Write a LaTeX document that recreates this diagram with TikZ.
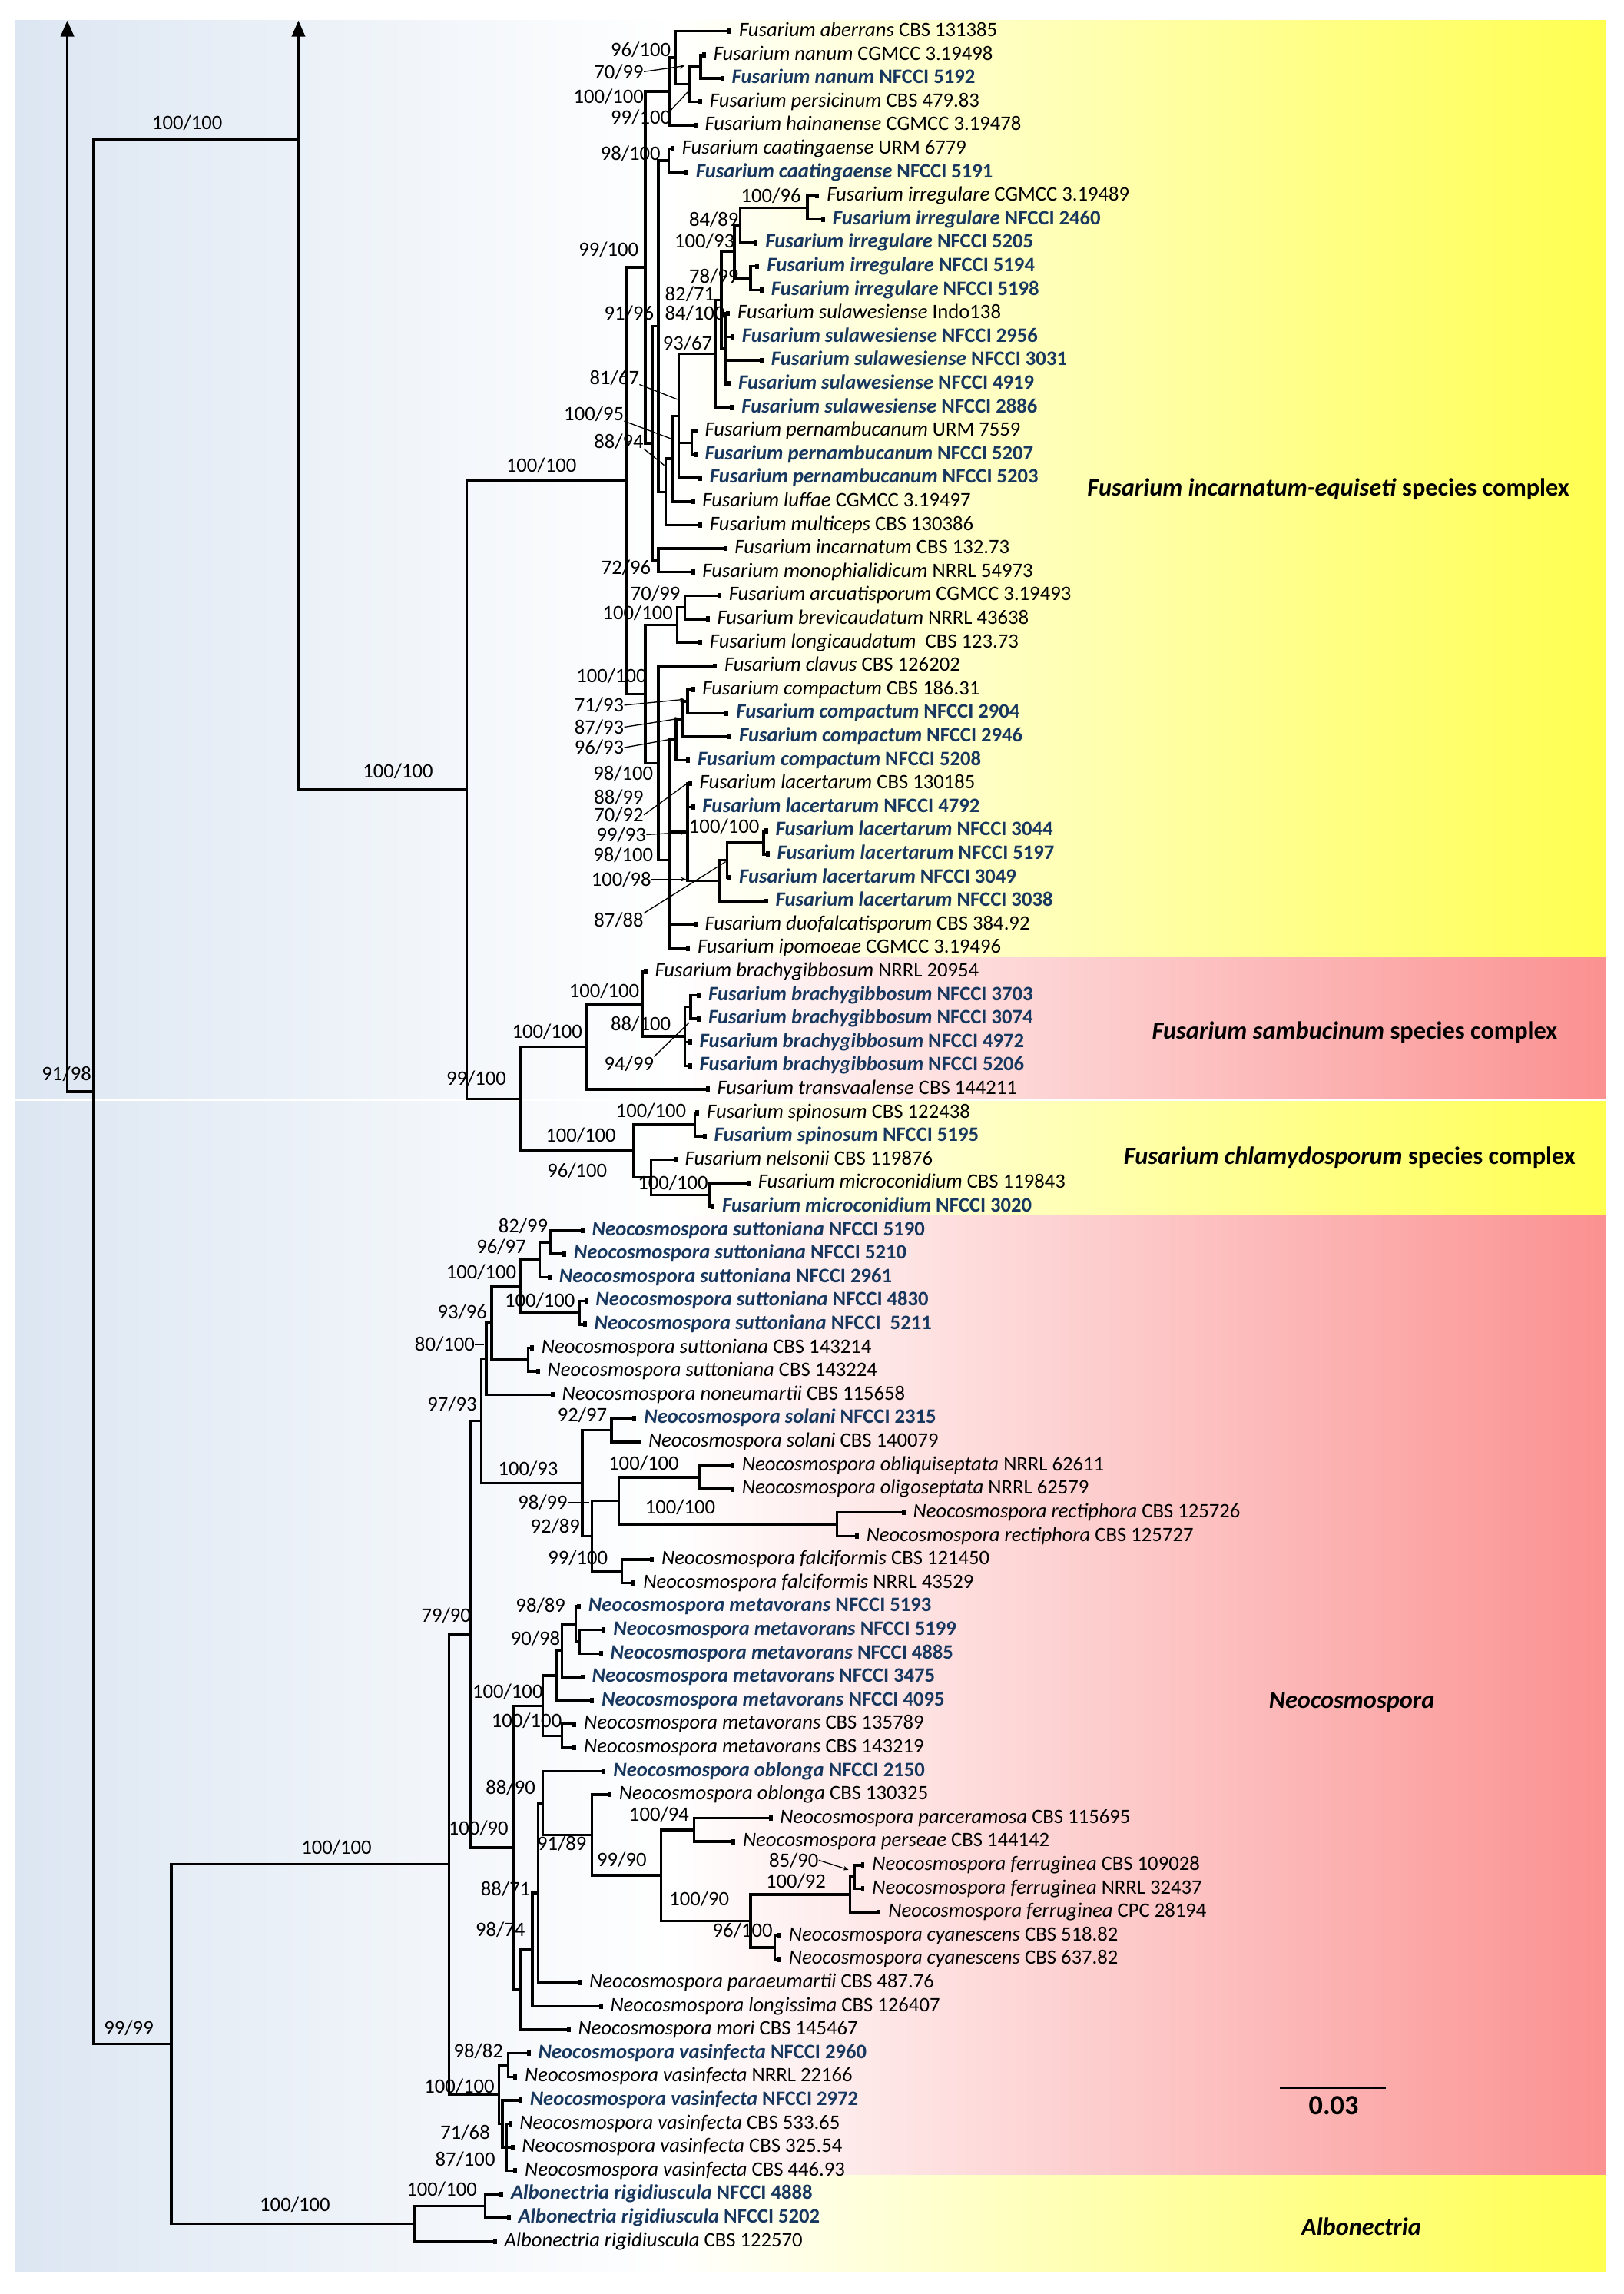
\documentclass[tikz,border=0pt]{standalone}
\usepackage{fontspec}
\setmainfont{Carlito}
\usetikzlibrary{arrows.meta}

\definecolor{nfblue}{RGB}{23,55,94}
\definecolor{bandyellow}{RGB}{255,255,80}
\definecolor{bandred}{RGB}{251,145,145}
\definecolor{leftblue}{RGB}{220,230,242}

% strain names: plain and newly isolated (NFCCI)
\newcommand{\tx}[2]{\textit{#1} #2}
\newcommand{\nf}[2]{\textcolor{nfblue}{\bfseries\textit{#1} #2}}

\begin{document}
\begin{tikzpicture}[x=1pt, y=-1pt,
  br/.style={line width=1.8pt, line cap=rect},
  tipbr/.style={line width=1.8pt, -{Square[length=2.6pt,width=3.6pt]}},
  outarrow/.style={line width=1.8pt, -{Triangle[length=11pt,width=9pt]}},
  leaf/.style={anchor=west, inner xsep=5pt, inner ysep=0pt, text height=10pt, text depth=3pt, font=\fontsize{14}{16}\selectfont},
  bs/.style={inner sep=0pt, text height=9.2pt, text depth=0pt, font=\fontsize{14}{16}\selectfont},
  lead/.style={line width=0.7pt},
  leadarr/.style={line width=0.7pt, -{Stealth[length=3.5pt,width=3pt]}},
  clade/.style={inner sep=0pt, text height=11.5pt, text depth=0pt, font=\fontsize{17}{20}\selectfont\bfseries}]

\useasboundingbox (0,0) rectangle (1110,1568);

% Background
\shade[left color=leftblue, right color=white] (10,14) rectangle (461,751.3);
\shade[left color=leftblue, right color=white] (10,752.8) rectangle (461,1552.6);
\shade[left color=white, right color=bandyellow] (460,14) rectangle (1098,654.6);
\shade[left color=white, right color=bandred] (460,654.6) rectangle (1098,751.3);
\shade[left color=white, right color=bandyellow] (460,752.8) rectangle (1098,830.5);
\shade[left color=white, right color=bandred] (460,830.5) rectangle (1098,1486.8);
\shade[left color=white, right color=bandyellow] (460,1486.8) rectangle (1098,1552.6);

% Clades
\node[clade] (fiesc) at (908,333) {\textit{Fusarium incarnatum-equiseti} species complex};
\node[clade] (fsamsc) at (926,704.5) {\textit{Fusarium sambucinum} species complex};
\node[clade] (fcsc) at (922.5,790) {\textit{Fusarium chlamydosporum} species complex};
\node[clade] (neo) at (924,1162) {\textit{Neocosmospora}};
\node[clade] (albo) at (930.5,1522) {\textit{Albonectria}};

% Leaves, FIESC
\node[leaf] (aberrans) at (500,21.4) {\tx{Fusarium aberrans}{CBS 131385}};
\node[leaf] (nanumA) at (482.5,37.47) {\tx{Fusarium nanum}{CGMCC 3.19498}};
\node[leaf] (nanumB) at (495,53.54) {\nf{Fusarium nanum}{NFCCI 5192}};
\node[leaf] (persicinum) at (480,69.61) {\tx{Fusarium persicinum}{CBS 479.83}};
\node[leaf] (hainanense) at (476.6,85.68) {\tx{Fusarium hainanense}{CGMCC 3.19478}};
\node[leaf] (caatA) at (461,101.75) {\tx{Fusarium caatingaense}{URM 6779}};
\node[leaf] (caatB) at (470.5,117.82) {\nf{Fusarium caatingaense}{NFCCI 5191}};
\node[leaf] (irrA) at (560,133.89) {\tx{Fusarium irregulare}{CGMCC 3.19489}};
\node[leaf] (irrB) at (564,149.96) {\nf{Fusarium irregulare}{NFCCI 2460}};
\node[leaf] (irrC) at (518,166.03) {\nf{Fusarium irregulare}{NFCCI 5205}};
\node[leaf] (irrD) at (519,182.1) {\nf{Fusarium irregulare}{NFCCI 5194}};
\node[leaf] (irrE) at (522,198.17) {\nf{Fusarium irregulare}{NFCCI 5198}};
\node[leaf] (sulA) at (499,214.24) {\tx{Fusarium sulawesiense}{Indo138}};
\node[leaf] (sulB) at (502,230.31) {\nf{Fusarium sulawesiense}{NFCCI 2956}};
\node[leaf] (sulC) at (522,246.38) {\nf{Fusarium sulawesiense}{NFCCI 3031}};
\node[leaf] (sulD) at (499.5,262.45) {\nf{Fusarium sulawesiense}{NFCCI 4919}};
\node[leaf] (sulE) at (501.7,278.52) {\nf{Fusarium sulawesiense}{NFCCI 2886}};
\node[leaf] (pernA) at (476.6,294.59) {\tx{Fusarium pernambucanum}{URM 7559}};
\node[leaf] (pernB) at (476.6,310.66) {\nf{Fusarium pernambucanum}{NFCCI 5207}};
\node[leaf] (pernC) at (480,326.73) {\nf{Fusarium pernambucanum}{NFCCI 5203}};
\node[leaf] (luffae) at (475,342.8) {\tx{Fusarium luffae}{CGMCC 3.19497}};
\node[leaf] (multiceps) at (480,358.87) {\tx{Fusarium multiceps}{CBS 130386}};
\node[leaf] (incarnatum) at (497,374.94) {\tx{Fusarium incarnatum}{CBS 132.73}};
\node[leaf] (monophial) at (475,391.01) {\tx{Fusarium monophialidicum}{NRRL 54973}};
\node[leaf] (arcuat) at (493,407.08) {\tx{Fusarium arcuatisporum}{CGMCC 3.19493}};
\node[leaf] (brevic) at (485,423.15) {\tx{Fusarium brevicaudatum}{NRRL 43638}};
\node[leaf] (longic) at (480,439.22) {\tx{Fusarium longicaudatum}{\ CBS 123.73}};
\node[leaf] (clavus) at (490,455.29) {\tx{Fusarium clavus}{CBS 126202}};
\node[leaf] (compA) at (475,471.36) {\tx{Fusarium compactum}{CBS 186.31}};
\node[leaf] (compB) at (498,487.43) {\nf{Fusarium compactum}{NFCCI 2904}};
\node[leaf] (compC) at (500,503.5) {\nf{Fusarium compactum}{NFCCI 2946}};
\node[leaf] (compD) at (471.6,519.57) {\nf{Fusarium compactum}{NFCCI 5208}};
\node[leaf] (lacA) at (473,535.64) {\tx{Fusarium lacertarum}{CBS 130185}};
\node[leaf] (lacB) at (475,551.71) {\nf{Fusarium lacertarum}{NFCCI 4792}};
\node[leaf] (lacC) at (525,567.78) {\nf{Fusarium lacertarum}{NFCCI 3044}};
\node[leaf] (lacD) at (526,583.85) {\nf{Fusarium lacertarum}{NFCCI 5197}};
\node[leaf] (lacE) at (500,599.92) {\nf{Fusarium lacertarum}{NFCCI 3049}};
\node[leaf] (lacF) at (525,615.99) {\nf{Fusarium lacertarum}{NFCCI 3038}};
\node[leaf] (duofalc) at (476.6,632.06) {\tx{Fusarium duofalcatisporum}{CBS 384.92}};
\node[leaf] (ipomoeae) at (471.6,648.13) {\tx{Fusarium ipomoeae}{CGMCC 3.19496}};

% Leaves, FSAMSC and FCSC
\node[leaf] (brachyA) at (442.5,664.2) {\tx{Fusarium brachygibbosum}{NRRL 20954}};
\node[leaf] (brachyB) at (479,680.27) {\nf{Fusarium brachygibbosum}{NFCCI 3703}};
\node[leaf] (brachyC) at (479,696.34) {\nf{Fusarium brachygibbosum}{NFCCI 3074}};
\node[leaf] (brachyD) at (473,712.41) {\nf{Fusarium brachygibbosum}{NFCCI 4972}};
\node[leaf] (brachyE) at (473,728.48) {\nf{Fusarium brachygibbosum}{NFCCI 5206}};
\node[leaf] (transv) at (485,744.55) {\tx{Fusarium transvaalense}{CBS 144211}};
\node[leaf] (spinA) at (478,760.62) {\tx{Fusarium spinosum}{CBS 122438}};
\node[leaf] (spinB) at (483,776.69) {\nf{Fusarium spinosum}{NFCCI 5195}};
\node[leaf] (nelsonii) at (463,792.76) {\tx{Fusarium nelsonii}{CBS 119876}};
\node[leaf] (microA) at (513,808.83) {\tx{Fusarium microconidium}{CBS 119843}};
\node[leaf] (microB) at (488.5,824.9) {\nf{Fusarium microconidium}{NFCCI 3020}};

% Leaves, Neocosmospora
\node[leaf] (suttA) at (399.5,840.97) {\nf{Neocosmospora suttoniana}{NFCCI 5190}};
\node[leaf] (suttB) at (387,857.04) {\nf{Neocosmospora suttoniana}{NFCCI 5210}};
\node[leaf] (suttC) at (377,873.11) {\nf{Neocosmospora suttoniana}{NFCCI 2961}};
\node[leaf] (suttD) at (402,889.18) {\nf{Neocosmospora suttoniana}{NFCCI 4830}};
\node[leaf] (suttE) at (401,905.25) {\nf{Neocosmospora suttoniana}{NFCCI\ \ 5211}};
\node[leaf] (suttF) at (365,921.32) {\tx{Neocosmospora suttoniana}{CBS 143214}};
\node[leaf] (suttG) at (369,937.39) {\tx{Neocosmospora suttoniana}{CBS 143224}};
\node[leaf] (noneum) at (379,953.46) {\tx{Neocosmospora noneumartii}{CBS 115658}};
\node[leaf] (solA) at (435,969.53) {\nf{Neocosmospora solani}{NFCCI 2315}};
\node[leaf] (solB) at (438,985.6) {\tx{Neocosmospora solani}{CBS 140079}};
\node[leaf] (obliq) at (502,1001.67) {\tx{Neocosmospora obliquiseptata}{NRRL 62611}};
\node[leaf] (oligo) at (502,1017.74) {\tx{Neocosmospora oligoseptata}{NRRL 62579}};
\node[leaf] (rectA) at (619,1033.81) {\tx{Neocosmospora rectiphora}{CBS 125726}};
\node[leaf] (rectB) at (587,1049.88) {\tx{Neocosmospora rectiphora}{CBS 125727}};
\node[leaf] (falcA) at (447,1065.95) {\tx{Neocosmospora falciformis}{CBS 121450}};
\node[leaf] (falcB) at (434.5,1082.02) {\tx{Neocosmospora falciformis}{NRRL 43529}};
\node[leaf] (metaA) at (397,1098.09) {\nf{Neocosmospora metavorans}{NFCCI 5193}};
\node[leaf] (metaB) at (414,1114.16) {\nf{Neocosmospora metavorans}{NFCCI 5199}};
\node[leaf] (metaC) at (412,1130.23) {\nf{Neocosmospora metavorans}{NFCCI 4885}};
\node[leaf] (metaD) at (399.5,1146.3) {\nf{Neocosmospora metavorans}{NFCCI 3475}};
\node[leaf] (metaE) at (406,1162.37) {\nf{Neocosmospora metavorans}{NFCCI 4095}};
\node[leaf] (metaF) at (394,1178.44) {\tx{Neocosmospora metavorans}{CBS 135789}};
\node[leaf] (metaG) at (394,1194.51) {\tx{Neocosmospora metavorans}{CBS 143219}};
\node[leaf] (oblA) at (414,1210.58) {\nf{Neocosmospora oblonga}{NFCCI 2150}};
\node[leaf] (oblB) at (418,1226.65) {\tx{Neocosmospora oblonga}{CBS 130325}};
\node[leaf] (parcer) at (528,1242.72) {\tx{Neocosmospora parceramosa}{CBS 115695}};
\node[leaf] (perseae) at (502.6,1258.79) {\tx{Neocosmospora perseae}{CBS 144142}};
\node[leaf] (ferrA) at (591,1274.86) {\tx{Neocosmospora ferruginea}{CBS 109028}};
\node[leaf] (ferrB) at (591,1290.93) {\tx{Neocosmospora ferruginea}{NRRL 32437}};
\node[leaf] (ferrC) at (602,1307) {\tx{Neocosmospora ferruginea}{CPC 28194}};
\node[leaf] (cyanA) at (534,1323.07) {\tx{Neocosmospora cyanescens}{CBS 518.82}};
\node[leaf] (cyanB) at (534,1339.14) {\tx{Neocosmospora cyanescens}{CBS 637.82}};
\node[leaf] (paraeum) at (397.6,1355.21) {\tx{Neocosmospora paraeumartii}{CBS 487.76}};
\node[leaf] (longiss) at (412,1371.28) {\tx{Neocosmospora longissima}{CBS 126407}};
\node[leaf] (mori) at (390,1387.35) {\tx{Neocosmospora mori}{CBS 145467}};
\node[leaf] (vasA) at (362.7,1403.42) {\nf{Neocosmospora vasinfecta}{NFCCI 2960}};
\node[leaf] (vasB) at (353.5,1419.49) {\tx{Neocosmospora vasinfecta}{NRRL 22166}};
\node[leaf] (vasC) at (357,1435.56) {\nf{Neocosmospora vasinfecta}{NFCCI 2972}};
\node[leaf] (vasD) at (350,1451.63) {\tx{Neocosmospora vasinfecta}{CBS 533.65}};
\node[leaf] (vasE) at (351.6,1467.7) {\tx{Neocosmospora vasinfecta}{CBS 325.54}};
\node[leaf] (vasF) at (353.5,1483.77) {\tx{Neocosmospora vasinfecta}{CBS 446.93}};

% Leaves, Albonectria
\node[leaf] (albA) at (344,1499.84) {\nf{Albonectria rigidiuscula}{NFCCI 4888}};
\node[leaf] (albB) at (349,1515.91) {\nf{Albonectria rigidiuscula}{NFCCI 5202}};
\node[leaf] (albC) at (339.6,1531.98) {\tx{Albonectria rigidiuscula}{CBS 122570}};

% Internal nodes
\coordinate (OUT) at (46,746.25);   \coordinate (OUTtop) at (46,14);
\coordinate (ROOT) at (64,746.25);
\coordinate (T) at (204,95.4);      \coordinate (Ttop) at (204,14);
\coordinate (FS) at (319,539.8);
\coordinate (F0) at (428,328.6);    \coordinate (F1) at (441,182.78);
\coordinate (C1) at (458,62.58);    \coordinate (C2) at (461.5,39.48);
\coordinate (C3) at (471.5,57.56);  \coordinate (C4) at (479,45.5);
\coordinate (F2) at (446,302.98);   \coordinate (F3) at (450,222.99);
\coordinate (CA) at (457,109.79);
\coordinate (P455) at (455,336.2);  \coordinate (P461) at (460,313.55);
\coordinate (P463) at (464,284.3);
\coordinate (SWIR) at (489,241.9);  \coordinate (IRS) at (493,205.2);
\coordinate (IR5) at (502,172.06);  \coordinate (IR2) at (506,153.98);
\coordinate (IR1) at (552,141.93);  \coordinate (IR4) at (513,190.14);
\coordinate (SW1) at (496,238.3);   \coordinate (PE) at (473,302.6);
\coordinate (INC) at (450,382.98);
\coordinate (F5) at (441,474.4);    \coordinate (AR0) at (463,427.16);
\coordinate (AR) at (468,415.1);
\coordinate (F6) at (450,521.65);   \coordinate (F7) at (458,588);
\coordinate (CO0) at (462,505.5);   \coordinate (CO1) at (466.5,491.45);
\coordinate (CO2) at (470,479.4);
\coordinate (LA4) at (470,568.8);   \coordinate (LA3) at (491.7,601.9);
\coordinate (LA2) at (497,587.86);  \coordinate (LA1) at (522,575.8);
\coordinate (FSF) at (356,751.05);  \coordinate (FSAM) at (401,715.4);
\coordinate (BR0) at (439,686.3);   \coordinate (BR1) at (468,708.4);
\coordinate (BR2) at (472,688.3);
\coordinate (FCH) at (433,786.7);   \coordinate (SP) at (475,768.66);
\coordinate (CH1) at (445,804.8);   \coordinate (MC) at (485,816.87);
\coordinate (ROOT2) at (117,1397.1);
\coordinate (N307) at (307,1274.3); \coordinate (N79) at (321.6,1117.1);
\coordinate (NE0) at (329,971.3);   \coordinate (NE1) at (332.5,928.8);
\coordinate (SU0) at (336,904.2);   \coordinate (SU1) at (356,879.1);
\coordinate (SU2) at (369,861.06);  \coordinate (SU3) at (376,849);
\coordinate (SU4) at (396,897.2);   \coordinate (CB) at (361,929.36);
\coordinate (SO0) at (398,1013.8);  \coordinate (SO1) at (418,977.6);
\coordinate (SO2) at (404.5,1049.9);
\coordinate (OB0) at (423,1025.8);  \coordinate (OB1) at (478,1009.7);
\coordinate (RE) at (572,1041.8);   \coordinate (FA) at (425,1074);
\coordinate (N100) at (351,1262.9); \coordinate (MV0) at (371,1165.9);
\coordinate (MV1) at (380.5,1145.3);\coordinate (MV2) at (384,1128.2);
\coordinate (MV3) at (393.5,1110.1);\coordinate (MV3a) at (396,1122.2);
\coordinate (MV4) at (384,1186.5);
\coordinate (MO) at (356,1359.9);   \coordinate (LO) at (364,1332.5);
\coordinate (P88) at (367.7,1293.8);\coordinate (OBL) at (371,1232.4);
\coordinate (OB2) at (404.5,1254.3);\coordinate (PF) at (452,1281.9);
\coordinate (PA) at (474.5,1250.8); \coordinate (FC) at (513,1313);
\coordinate (FE) at (581,1295);     \coordinate (FE1) at (584,1282.9);
\coordinate (CY) at (529.7,1331.1);
\coordinate (VA) at (341,1431.5);   \coordinate (VA1) at (347.4,1411.5);
\coordinate (V2) at (343.5,1451.6); \coordinate (V3) at (346,1467.7);
\coordinate (AL0) at (283.6,1519.9);\coordinate (AL1) at (331.7,1507.9);

% Backbone
\draw[outarrow] (ROOT) -- (OUT) -- (OUTtop);
\draw[outarrow] (ROOT) |- (T) -- (Ttop);
\draw[br] (ROOT) |- (ROOT2);
\draw[br] (T) |- (FS);
\draw[br] (FS) |- (F0);  \draw[br] (FS) |- (FSF);

% FIESC branches
\draw[br] (F0) |- (F1);  \draw[br] (F0) |- (F5);
\draw[br] (F1) |- (C1);  \draw[br] (F1) |- (F2);
\draw[br] (C1) |- (C2);  \draw[tipbr] (C1) |- (hainanense.west);
\draw[tipbr] (C2) |- (aberrans.west);  \draw[br] (C2) |- (C3);
\draw[br] (C3) |- (C4);  \draw[tipbr] (C3) |- (persicinum.west);
\draw[tipbr] (C4) |- (nanumA.west);  \draw[tipbr] (C4) |- (nanumB.west);
\draw[br] (F2) |- (F3);  \draw[br] (F2) |- (INC);
\draw[br] (F3) |- (CA);  \draw[br] (F3) |- (P455);
\draw[tipbr] (CA) |- (caatA.west);  \draw[tipbr] (CA) |- (caatB.west);
\draw[br] (P455) |- (P461);  \draw[tipbr] (P455) |- (multiceps.west);
\draw[br] (P461) |- (P463);  \draw[tipbr] (P461) |- (luffae.west);
\draw[br] (P463) |- (SWIR);  \draw[br] (P463) |- (PE);  \draw[tipbr] (P463) |- (pernC.west);
\draw[br] (SWIR) |- (IRS);  \draw[tipbr] (SWIR) |- (sulE.west);
\draw[br] (IRS) |- (IR5);  \draw[br] (IRS) |- (SW1);
\draw[br] (IR5) |- (IR2);  \draw[br] (IR5) |- (IR4);
\draw[br] (IR2) |- (IR1);  \draw[tipbr] (IR2) |- (irrC.west);
\draw[tipbr] (IR1) |- (irrA.west);  \draw[tipbr] (IR1) |- (irrB.west);
\draw[tipbr] (IR4) |- (irrD.west);  \draw[tipbr] (IR4) |- (irrE.west);
\draw[tipbr] (SW1) |- (sulA.west);  \draw[tipbr] (SW1) |- (sulB.west);
\draw[tipbr] (SW1) |- (sulC.west);  \draw[tipbr] (SW1) |- (sulD.west);
\draw[tipbr] (PE) |- (pernA.west);  \draw[tipbr] (PE) |- (pernB.west);
\draw[tipbr] (INC) |- (incarnatum.west);  \draw[tipbr] (INC) |- (monophial.west);
\draw[br] (F5) |- (AR0);  \draw[br] (F5) |- (F6);
\draw[br] (AR0) |- (AR);  \draw[tipbr] (AR0) |- (longic.west);
\draw[tipbr] (AR) |- (arcuat.west);  \draw[tipbr] (AR) |- (brevic.west);
\draw[tipbr] (F6) |- (clavus.west);  \draw[br] (F6) |- (F7);
\draw[br] (F7) |- (CO0);  \draw[br] (F7) |- (LA4);
\draw[tipbr] (F7) |- (duofalc.west);  \draw[tipbr] (F7) |- (ipomoeae.west);
\draw[br] (CO0) |- (CO1);  \draw[tipbr] (CO0) |- (compD.west);
\draw[br] (CO1) |- (CO2);  \draw[tipbr] (CO1) |- (compC.west);
\draw[tipbr] (CO2) |- (compA.west);  \draw[tipbr] (CO2) |- (compB.west);
\draw[tipbr] (LA4) |- (lacA.west);  \draw[tipbr] (LA4) |- (lacB.west);  \draw[br] (LA4) |- (LA3);
\draw[br] (LA3) |- (LA2);  \draw[tipbr] (LA3) |- (lacF.west);
\draw[br] (LA2) |- (LA1);  \draw[tipbr] (LA2) |- (lacE.west);
\draw[tipbr] (LA1) |- (lacC.west);  \draw[tipbr] (LA1) |- (lacD.west);

% FSAMSC and FCSC branches
\draw[br] (FSF) |- (FSAM);  \draw[br] (FSF) |- (FCH);
\draw[br] (FSAM) |- (BR0);  \draw[tipbr] (FSAM) |- (transv.west);
\draw[tipbr] (BR0) |- (brachyA.west);  \draw[br] (BR0) |- (BR1);
\draw[br] (BR1) |- (BR2);  \draw[tipbr] (BR1) |- (brachyD.west);  \draw[tipbr] (BR1) |- (brachyE.west);
\draw[tipbr] (BR2) |- (brachyB.west);  \draw[tipbr] (BR2) |- (brachyC.west);
\draw[br] (FCH) |- (SP);  \draw[br] (FCH) |- (CH1);
\draw[tipbr] (SP) |- (spinA.west);  \draw[tipbr] (SP) |- (spinB.west);
\draw[tipbr] (CH1) |- (nelsonii.west);  \draw[br] (CH1) |- (MC);
\draw[tipbr] (MC) |- (microA.west);  \draw[tipbr] (MC) |- (microB.west);

% Neocosmospora branches
\draw[br] (ROOT2) |- (N307);  \draw[br] (ROOT2) |- (AL0);
\draw[br] (N307) |- (N79);  \draw[br] (N307) |- (VA);
\draw[br] (N79) |- (NE0);  \draw[br] (N79) |- (N100);
\draw[br] (NE0) |- (NE1);  \draw[br] (NE0) |- (SO0);
\draw[br] (NE1) |- (SU0);  \draw[tipbr] (NE1) |- (noneum.west);
\draw[br] (SU0) |- (SU1);  \draw[br] (SU0) |- (CB);
\draw[br] (SU1) |- (SU2);  \draw[br] (SU1) |- (SU4);
\draw[br] (SU2) |- (SU3);  \draw[tipbr] (SU2) |- (suttC.west);
\draw[tipbr] (SU3) |- (suttA.west);  \draw[tipbr] (SU3) |- (suttB.west);
\draw[tipbr] (SU4) |- (suttD.west);  \draw[tipbr] (SU4) |- (suttE.west);
\draw[tipbr] (CB) |- (suttF.west);  \draw[tipbr] (CB) |- (suttG.west);
\draw[br] (SO0) |- (SO1);  \draw[br] (SO0) |- (SO2);
\draw[tipbr] (SO1) |- (solA.west);  \draw[tipbr] (SO1) |- (solB.west);
\draw[br] (SO2) |- (OB0);  \draw[br] (SO2) |- (FA);
\draw[br] (OB0) |- (OB1);  \draw[br] (OB0) |- (RE);
\draw[tipbr] (OB1) |- (obliq.west);  \draw[tipbr] (OB1) |- (oligo.west);
\draw[tipbr] (RE) |- (rectA.west);  \draw[tipbr] (RE) |- (rectB.west);
\draw[tipbr] (FA) |- (falcA.west);  \draw[tipbr] (FA) |- (falcB.west);
\draw[br] (N100) |- (MV0);  \draw[br] (N100) |- (MO);
\draw[br] (MV0) |- (MV1);  \draw[br] (MV0) |- (MV4);
\draw[br] (MV1) |- (MV2);  \draw[tipbr] (MV1) |- (metaE.west);
\draw[br] (MV2) |- (MV3);  \draw[tipbr] (MV2) |- (metaD.west);
\draw[tipbr] (MV3) |- (metaA.west);  \draw[br] (MV3) |- (MV3a);
\draw[tipbr] (MV3a) |- (metaB.west);  \draw[tipbr] (MV3a) |- (metaC.west);
\draw[tipbr] (MV4) |- (metaF.west);  \draw[tipbr] (MV4) |- (metaG.west);
\draw[br] (MO) |- (LO);  \draw[tipbr] (MO) |- (mori.west);
\draw[br] (LO) |- (P88);  \draw[tipbr] (LO) |- (longiss.west);
\draw[br] (P88) |- (OBL);  \draw[tipbr] (P88) |- (paraeum.west);
\draw[tipbr] (OBL) |- (oblA.west);  \draw[br] (OBL) |- (OB2);
\draw[tipbr] (OB2) |- (oblB.west);  \draw[br] (OB2) |- (PF);
\draw[br] (PF) |- (PA);  \draw[br] (PF) |- (FC);
\draw[tipbr] (PA) |- (parcer.west);  \draw[tipbr] (PA) |- (perseae.west);
\draw[br] (FC) |- (FE);  \draw[br] (FC) |- (CY);
\draw[br] (FE) |- (FE1);  \draw[tipbr] (FE) |- (ferrC.west);
\draw[tipbr] (FE1) |- (ferrA.west);  \draw[tipbr] (FE1) |- (ferrB.west);
\draw[tipbr] (CY) |- (cyanA.west);  \draw[tipbr] (CY) |- (cyanB.west);
\draw[br] (VA) |- (VA1);  \draw[br] (VA) |- (V2);
\draw[tipbr] (VA1) |- (vasA.west);  \draw[tipbr] (VA1) |- (vasB.west);
\draw[tipbr] (V2) |- (vasC.west);  \draw[br] (V2) |- (V3);
\draw[tipbr] (V3) |- (vasD.west);  \draw[tipbr] (V3) |- (vasE.west);  \draw[tipbr] (V3) |- (vasF.west);

% Albonectria branches
\draw[br] (AL0) |- (AL1);  \draw[tipbr] (AL0) |- (albC.west);
\draw[tipbr] (AL1) |- (albA.west);  \draw[tipbr] (AL1) |- (albB.west);

% Support values, backbone
\node[bs] (sT) at (128,84) {100/100};
\node[bs] (sOUT) at (45.5,734) {91/98};
\node[bs] (sFS) at (272,527) {100/100};
\node[bs] (sF0) at (370,318) {100/100};
\node[bs] (sFSF) at (325.6,737) {99/100};
\node[bs] (sROOT2) at (88,1386) {99/99};
\node[bs] (sN307) at (230,1263) {100/100};
\node[bs] (sAL0) at (201.6,1507) {100/100};
\node[bs] (sAL1) at (302,1496.5) {100/100};

% Support values, FIESC
\node[bs] (sC2) at (438,34) {96/100};
\node[bs] (sC4) at (423,49) {70/99};
\node[bs] (sC1) at (416,66) {100/100};
\node[bs] (sC3) at (438,80) {99/100};
\node[bs] (sCA) at (431,105) {98/100};
\node[bs] (sF1) at (416,170.6) {99/100};
\node[bs] (sIR1) at (527,134) {100/96};
\node[bs] (sIR2) at (488,150) {84/89};
\node[bs] (sIR5) at (481.6,164.5) {100/93};
\node[bs] (sIR4) at (488,189) {78/99};
\node[bs] (sIRS) at (471.5,201) {82/71};
\node[bs] (sF3) at (430,214) {91/96};
\node[bs] (sSW1) at (475,214) {84/100};
\node[bs] (sSWIR) at (470,234.5) {93/67};
\node[bs] (sP463) at (420,258) {81/67};
\node[bs] (sP461) at (406,283) {100/95};
\node[bs] (sP455) at (423,302) {88/94};
\node[bs] (sINC) at (428,388) {72/96};
\node[bs] (sAR) at (448,406) {70/99};
\node[bs] (sAR0) at (436,419) {100/100};
\node[bs] (sF5) at (418,462) {100/100};
\node[bs] (sCO2) at (409.6,482) {71/93};
\node[bs] (sCO1) at (409.6,497) {87/93};
\node[bs] (sCO0) at (409.6,511) {96/93};
\node[bs] (sF6) at (426,528.5) {98/100};
\node[bs] (sLA4a) at (423,545) {88/99};
\node[bs] (sLA4b) at (423,557) {70/92};
\node[bs] (sLA4c) at (424.7,570.5) {99/93};
\node[bs] (sF7) at (426,584.5) {98/100};
\node[bs] (sLA3) at (424.7,601) {100/98};
\node[bs] (sLA1) at (495,565) {100/100};
\node[bs] (sLA2) at (423,629) {87/88};

% Support values, FSAMSC and FCSC
\node[bs] (sFSAM) at (374,705) {100/100};
\node[bs] (sBR0) at (413,677) {100/100};
\node[bs] (sBR1) at (438,700) {88/100};
\node[bs] (sBR2) at (430,727) {94/99};
\node[bs] (sFCH) at (397,776) {100/100};
\node[bs] (sSP) at (445,759) {100/100};
\node[bs] (sCH1) at (394.5,800) {96/100};
\node[bs] (sMC) at (460,808.6) {100/100};

% Support values, Neocosmospora
\node[bs] (sSU3) at (357.6,838) {82/99};
\node[bs] (sSU2) at (342.6,852) {96/97};
\node[bs] (sSU1) at (329,869.7) {100/100};
\node[bs] (sSU4) at (369,889) {100/100};
\node[bs] (sSU0) at (316,897) {93/96};
\node[bs] (sNE1) at (304,919) {80/100};
\node[bs] (sNE0) at (309,960) {97/93};
\node[bs] (sSO1) at (398,967) {92/97};
\node[bs] (sSO0) at (361,1004) {100/93};
\node[bs] (sOB1) at (440,1000) {100/100};
\node[bs] (sRE) at (465,1030) {100/100};
\node[bs] (sOB0) at (371,1027) {98/99};
\node[bs] (sSO2) at (379.5,1043) {92/89};
\node[bs] (sFA) at (395,1065) {99/100};
\node[bs] (sMV3) at (369.5,1097.5) {98/89};
\node[bs] (sMV2) at (366,1120) {90/98};
\node[bs] (sN79) at (305,1104) {79/90};
\node[bs] (sMV0) at (347,1156) {100/100};
\node[bs] (sMV4) at (360,1176) {100/100};
\node[bs] (sOBL) at (349,1222) {88/90};
\node[bs] (sPA) at (450.5,1240) {100/94};
\node[bs] (sN100) at (327,1249.5) {100/90};
\node[bs] (sOB2) at (384,1260) {91/89};
\node[bs] (sPF) at (425,1271) {99/90};
\node[bs] (sFE1) at (542.6,1271.5) {85/90};
\node[bs] (sFE) at (544,1286) {100/92};
\node[bs] (sP88) at (345.6,1291) {88/71};
\node[bs] (sFC) at (478,1298) {100/90};
\node[bs] (sLO) at (342,1319) {98/74};
\node[bs] (sCY) at (507.6,1319.6) {96/100};
\node[bs] (sVA1) at (327,1402) {98/82};
\node[bs] (sVA) at (314,1426) {100/100};
\node[bs] (sV2) at (318,1457.6) {71/68};
\node[bs] (sV3) at (318,1476) {87/100};

% Leader lines
\coordinate (kC4) at (468,45);      \draw[leadarr] (sC4.east) -- (kC4);
\coordinate (kC3) at (470,63);      \draw[lead] (sC3.north east) -- (kC3);
\coordinate (kP463) at (463,273);   \draw[lead] (sP463.south east) -- (kP463);
\coordinate (kP461) at (459,300);   \draw[lead] (sP461.south east) -- (kP461);
\coordinate (kP455) at (454,318);   \draw[lead] (sP455.south east) -- (kP455);
\coordinate (kCO2) at (468,478);    \draw[leadarr] (sCO2.east) -- (kCO2);
\coordinate (kCO1) at (465,491);    \draw[leadarr] (sCO1.east) -- (kCO1);
\coordinate (kCO0) at (460,505);    \draw[leadarr] (sCO0.east) -- (kCO0);
\coordinate (kLA4) at (469,536);    \draw[lead] (sLA4b.east) -- (kLA4);
\coordinate (kLA4c) at (469,569);   \draw[leadarr] (sLA4c.east) -- (kLA4c);
\coordinate (kLA3) at (469,601);    \draw[leadarr] (sLA3.east) -- (kLA3);
\coordinate (kLA2) at (496,589);    \draw[lead] (sLA2.north east) -- (kLA2);
\coordinate (kBR2) at (471,699);    \draw[lead] (sBR2.north east) -- (kBR2);
\coordinate (kNE1) at (331,919);    \draw[lead] (sNE1.east) -- (kNE1);
\coordinate (kOB0) at (403,1027);   \draw[lead] (sOB0.east) -- (kOB0);
\coordinate (kFE1) at (580,1278);   \draw[leadarr] (sFE1.east) -- (kFE1);

% Scale bar
\coordinate (sbL) at (875,1427);  \coordinate (sbR) at (947.4,1427);
\draw[line width=2pt] (sbL) -- (sbR);
\node[inner sep=0pt, font=\fontsize{19}{22}\selectfont\bfseries] (sbtext) at (911.6,1439) {0.03};

\end{tikzpicture}
\end{document}
